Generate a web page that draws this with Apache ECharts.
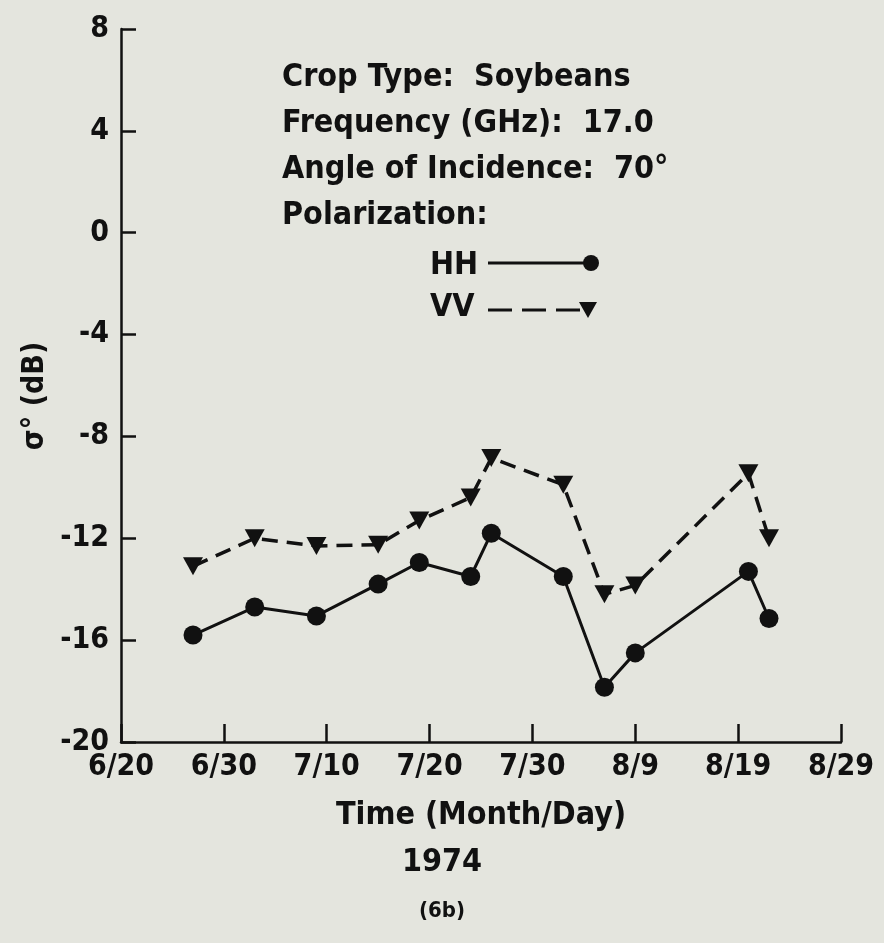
<!DOCTYPE html>
<html>
<head>
<meta charset="utf-8">
<script src="https://cdn.jsdelivr.net/npm/echarts@6/dist/echarts.min.js"></script>
<style>
  html, body { margin: 0; padding: 0; background: #e4e5de; }
  #main { width: 884px; height: 943px; }
</style>
</head>
<body>
<div id="main"></div>
<script>
// observation dates (1974)
var dates = ['6/27', '7/3', '7/9', '7/15', '7/19', '7/24', '7/26', '8/2', '8/6', '8/9', '8/20', '8/22'];
// sigma0 (dB)
var hhValues = [-15.8, -14.7, -15.05, -13.8, -12.95, -13.5, -11.8, -13.5, -17.85, -16.5, -13.3, -15.15];
var vvValues = [-13.1, -12.0, -12.3, -12.25, -11.3, -10.4, -8.85, -9.9, -14.2, -13.85, -9.45, -12.0];
var xTickLabels = ['6/20', '6/30', '7/10', '7/20', '7/30', '8/9', '8/19', '8/29'];
var infoLines = ['Crop Type:  Soybeans', 'Frequency (GHz):  17.0', 'Angle of Incidence:  70°', 'Polarization:'];

var FONT = "'Liberation Sans Narrow', 'DejaVu Sans Condensed', 'Liberation Sans', sans-serif";

// days after 6/20
function dayOffset(s) {
  var p = s.split('/');
  var m = +p[0], d = +p[1];
  var start = { 6: -20, 7: 10, 8: 41 };
  return start[m] + d;
}

var hhData = [], vvData = [];
for (var i = 0; i < dates.length; i++) {
  hhData.push([dayOffset(dates[i]), hhValues[i]]);
  vvData.push([dayOffset(dates[i]), vvValues[i]]);
}

var myChart = echarts.init(document.getElementById('main'));

var infoText = infoLines.map(function (t, i) {
  return {
    type: 'text', left: 282, top: 62 + i * 46,
    style: { text: t, font: 'bold 32px ' + FONT, fill: '#111' }
  };
});

var option = {
  backgroundColor: '#e4e5de',
  animation: false,
  grid: { left: 121, right: 43, top: 29, bottom: 201 },
  xAxis: {
    type: 'value', min: 0, max: 70, interval: 10,
    axisLine: { onZero: false, lineStyle: { color: '#111', width: 2.5 } },
    axisTick: { inside: true, length: 18, lineStyle: { color: '#111', width: 2.5 } },
    splitLine: { show: false },
    axisLabel: {
      color: '#111', fontSize: 30, fontWeight: 'bold', fontFamily: FONT, margin: 10,
      formatter: function (v) { return xTickLabels[Math.round(v / 10)]; }
    },
    name: 'Time (Month/Day)', nameLocation: 'middle', nameGap: 58,
    nameTextStyle: { color: '#111', fontSize: 32, fontWeight: 'bold', fontFamily: FONT }
  },
  yAxis: {
    type: 'value', min: -20, max: 8, interval: 4,
    axisLine: { onZero: false, lineStyle: { color: '#111', width: 2.5 } },
    axisTick: { inside: true, length: 15, lineStyle: { color: '#111', width: 2.5 } },
    splitLine: { show: false },
    axisLabel: { color: '#111', fontSize: 30, fontWeight: 'bold', fontFamily: FONT, margin: 12 }
  },
  graphic: infoText.concat([
    { type: 'text', x: 35, y: 396, rotation: Math.PI / 2,
      style: { text: 'σ° (dB)', font: 'bold 30px ' + FONT, fill: '#111', align: 'center', verticalAlign: 'middle' } },
    { type: 'text', left: 430, top: 250, style: { text: 'HH', font: 'bold 32px ' + FONT, fill: '#111' } },
    { type: 'text', left: 430, top: 292, style: { text: 'VV', font: 'bold 32px ' + FONT, fill: '#111' } },
    { type: 'line', shape: { x1: 488, y1: 263, x2: 591, y2: 263 }, style: { stroke: '#111', lineWidth: 3 } },
    { type: 'circle', shape: { cx: 591, cy: 263, r: 8 }, style: { fill: '#111' } },
    { type: 'line', shape: { x1: 488, y1: 310, x2: 586, y2: 310 }, style: { stroke: '#111', lineWidth: 3, lineDash: [24, 10] } },
    { type: 'polygon', shape: { points: [[579, 302], [597, 302], [588, 318]] }, style: { fill: '#111' } },
    { type: 'text', left: 'center', top: 847, style: { text: '1974', font: 'bold 32px ' + FONT, fill: '#111' } },
    { type: 'text', left: 'center', top: 900, style: { text: '(6b)', font: 'bold 22px ' + FONT, fill: '#111' } }
  ]),
  series: [{
    name: 'HH', type: 'line', data: hhData,
    symbol: 'circle', symbolSize: 19,
    lineStyle: { color: '#111', width: 3 },
    itemStyle: { color: '#111' }
  }, {
    name: 'VV', type: 'line', data: vvData,
    symbol: 'triangle', symbolSize: [20, 18], symbolRotate: 180,
    lineStyle: { color: '#111', width: 3.5, type: [16, 9] },
    itemStyle: { color: '#111' }
  }]
};
myChart.setOption(option);
</script>
</body>
</html>
